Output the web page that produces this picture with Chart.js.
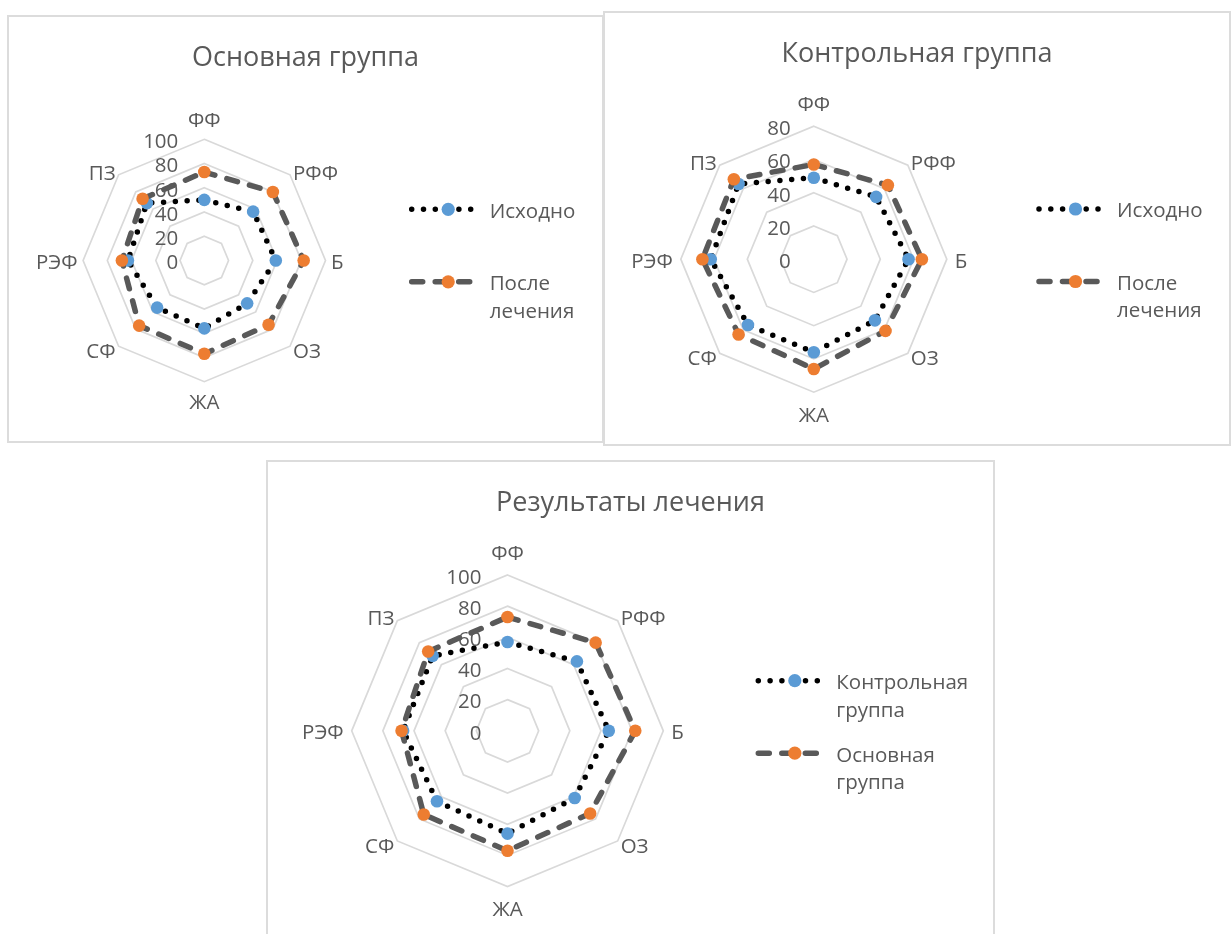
<!DOCTYPE html>
<html lang="ru">
<head>
<meta charset="utf-8">
<title>Радарные диаграммы</title>
<script src="https://cdn.jsdelivr.net/npm/chart.js@4.4.1/dist/chart.umd.min.js"></script>
<style>
  html, body { margin: 0; padding: 0; background: #fff; }
  body { width: 1231px; height: 934px; position: relative; overflow: hidden; }
  .panel { position: absolute; box-sizing: border-box; border: 2px solid #dcdcdc; background: #fff; }
  .panel canvas { position: absolute; left: -2px; top: -2px; }
</style>
</head>
<body>
<div class="panel" style="left:7px;top:15px;width:597px;height:428px"><canvas id="chartMain" width="597" height="428"></canvas></div>
<div class="panel" style="left:603px;top:11px;width:628px;height:435px"><canvas id="chartControl" width="628" height="435"></canvas></div>
<div class="panel" style="left:266px;top:460px;width:729px;height:490px"><canvas id="chartResult" width="729" height="490"></canvas></div>
<script>
// Шкалы опросника (оси радара)
const axisLabels = ['ФФ', 'РФФ', 'Б', 'ОЗ', 'ЖА', 'СФ', 'РЭФ', 'ПЗ'];

// Основная группа
const mainBefore = [50, 57, 59, 50, 56, 55, 63, 67];
const mainAfter  = [73, 80, 82, 75, 77, 76, 68, 72];

// Контрольная группа
const controlBefore = [49, 53, 57, 52, 56, 56, 62, 64];
const controlAfter  = [57, 63, 65, 61, 66, 64, 67, 68];

// Деления радиальной оси
const ticksTo100 = [0, 20, 40, 60, 80, 100];
const ticksTo80  = [0, 20, 40, 60, 80];

const FONT = "'Open Sans', 'DejaVu Sans', sans-serif";
const TEXT = '#595959';
const BLUE = '#5B9BD5';
const ORANGE = '#ED7D31';

// Пунктир из круглых точек (чёрный) и штриховая линия (серая)
function dottedSeries(label, data) {
  return {
    label, data, order: 1, clip: false, fill: false, tension: 0,
    borderColor: '#000000', borderWidth: 5.5, borderDash: [0, 11.8], borderCapStyle: 'round',
    pointRadius: 6.3, pointHoverRadius: 6.3, pointBackgroundColor: BLUE, pointBorderColor: BLUE, pointBorderWidth: 0
  };
}
function dashedSeries(label, data) {
  return {
    label, data, order: 0, clip: false, fill: false, tension: 0,
    borderColor: '#595959', borderWidth: 5.5, borderDash: [11, 12.5], borderCapStyle: 'round',
    pointRadius: 6.3, pointHoverRadius: 6.3, pointBackgroundColor: ORANGE, pointBorderColor: ORANGE, pointBorderWidth: 0
  };
}

// Подписи делений, подписи осей и легенда в духе офисных диаграмм
const radarDecor = {
  id: 'radarDecor',
  beforeDatasetsDraw(chart, args, o) {
    const s = chart.scales.r;
    const ctx = chart.ctx;
    ctx.save();
    ctx.fillStyle = TEXT;
    ctx.textBaseline = 'alphabetic';

    // значения шкалы слева от вертикальной оси
    ctx.font = `${o.tickSize}px ${FONT}`;
    ctx.textAlign = 'right';
    const tCap = o.tickSize * 0.714;
    s.ticks.forEach(t => {
      const y = s.yCenter - s.getDistanceFromCenterForValue(t.value) + o.tickShift;
      ctx.fillText(String(t.value), s.xCenter - o.tickGap, y + tCap / 2);
    });

    // названия осей
    ctx.font = `${o.labelSize}px ${FONT}`;
    const lCap = o.labelSize * 0.714;
    const r = s.drawingArea;
    chart.data.labels.forEach((lab, i) => {
      const p = s.getPointPosition(i, r);
      const cos = Math.cos(p.angle), sin = Math.sin(p.angle);
      let x, y;
      if (Math.abs(cos) < 0.01) {
        ctx.textAlign = 'center';
        x = s.xCenter;
        y = s.yCenter + Math.sign(sin) * (r + o.vGap) + lCap / 2;
      } else {
        ctx.textAlign = cos > 0 ? 'left' : 'right';
        const side = Math.abs(sin) < 0.01;
        x = p.x + Math.sign(cos) * (side ? o.hGap : o.dGap);
        y = p.y + (side ? 0 : Math.sign(sin) * o.dRise) + 1 + lCap / 2;
      }
      ctx.fillText(lab, x, y);
    });
    ctx.restore();
  },
  afterDraw(chart, args, o) {
    const ctx = chart.ctx;
    const L = o.legend;
    const cap = o.legendSize * 0.714;
    chart.data.datasets.forEach((ds, k) => {
      const y = L.y + k * L.step;
      ctx.save();
      ctx.strokeStyle = ds.borderColor;
      ctx.lineWidth = ds.borderWidth;
      ctx.lineCap = 'round';
      ctx.setLineDash(ds.borderDash);
      ctx.beginPath();
      ctx.moveTo(L.x, y);
      ctx.lineTo(L.x + L.len, y);
      ctx.stroke();
      ctx.setLineDash([]);
      ctx.fillStyle = ds.pointBackgroundColor;
      ctx.beginPath();
      ctx.arc(L.x + L.mark, y, ds.pointRadius + 0.3, 0, Math.PI * 2);
      ctx.fill();
      ctx.fillStyle = TEXT;
      ctx.font = `${o.legendSize}px ${FONT}`;
      ctx.textAlign = 'left';
      ctx.textBaseline = 'alphabetic';
      ds.label.split(' ').forEach((line, j) => {
        ctx.fillText(line, L.x + L.textOff, y + j * L.lineH + cap / 2 + 1);
      });
      ctx.restore();
    });
  }
};

function buildRadar(id, title, names, series, ticks, geo, legendPos) {
  const ctx = document.getElementById(id);
  return new Chart(ctx, {
    type: 'radar',
    data: {
      labels: axisLabels,
      datasets: [dottedSeries(names[0], series[0]), dashedSeries(names[1], series[1])]
    },
    options: {
      responsive: false,
      animation: false,
      devicePixelRatio: 1,
      events: [],
      layout: { padding: 0 },
      scales: {
        r: {
          min: ticks[0],
          max: ticks[ticks.length - 1],
          ticks: { display: false, stepSize: ticks[1] - ticks[0] },
          pointLabels: { display: false },
          angleLines: { display: false },
          grid: { color: '#d9d9d9', lineWidth: 1.7, circular: false },
          afterFit(scale) {
            scale.xCenter = geo.cx;
            scale.yCenter = geo.cy;
            scale.drawingArea = geo.r;
          }
        }
      },
      plugins: {
        legend: { display: false },
        tooltip: { enabled: false },
        title: {
          display: true,
          text: title,
          color: TEXT,
          font: { family: FONT, size: 27, weight: 'normal' },
          padding: { top: 26.8, bottom: 0 }
        },
        radarDecor: {
          tickSize: 20.5, tickGap: geo.tickGap, tickShift: 1.5,
          labelSize: 20.5, vGap: geo.vGap, hGap: geo.hGap, dGap: 3, dRise: 3.5,
          legendSize: 20.5,
          legend: Object.assign({ len: 66, mark: 36.5, textOff: 78, step: 72.5, lineH: 27.5 }, legendPos)
        }
      }
    },
    plugins: [radarDecor]
  });
}

buildRadar('chartMain', 'Основная группа', ['Исходно', 'После лечения'],
  [mainBefore, mainAfter], ticksTo100,
  { cx: 197.3, cy: 245.5, r: 121.2, tickGap: 26, vGap: 20, hGap: 5.5 }, { x: 404.7, y: 194.3 });

buildRadar('chartControl', 'Контрольная группа', ['Исходно', 'После лечения'],
  [controlBefore, controlAfter], ticksTo80,
  { cx: 210.8, cy: 248.2, r: 133, tickGap: 23, vGap: 22.5, hGap: 8 }, { x: 436, y: 198 });

buildRadar('chartResult', 'Результаты лечения', ['Контрольная группа', 'Основная группа'],
  [controlAfter, mainAfter], ticksTo100,
  { cx: 241.5, cy: 270.8, r: 155.8, tickGap: 26, vGap: 22.5, hGap: 8 }, { x: 492.3, y: 220.7 });
</script>
</body>
</html>
